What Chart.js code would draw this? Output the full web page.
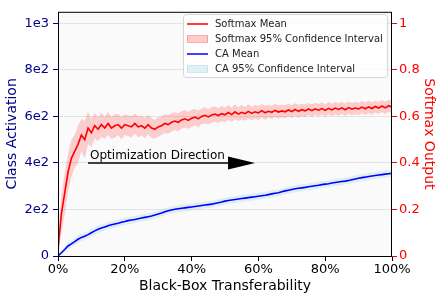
<!DOCTYPE html>
<html>
<head>
<meta charset="utf-8">
<script src="https://cdn.jsdelivr.net/npm/chart.js@4/dist/chart.umd.min.js"></script>
<style>
  body { margin: 0; background: #fff; }
  #wrap { width: 444px; height: 300px; position: relative; }
</style>
</head>
<body>
<div id="wrap"><canvas id="chart1"></canvas></div>
<script>
// x positions (% black-box transferability)
var transfer = [0,1,2,3,4,5,6,7,8,9,10,11,12,13,14,15,16,17,18,19,20,21,22,23,24,25,26,27,28,29,30,
    31,32,33,34,35,36,37,38,39,40,41,42,43,44,45,46,47,48,49,50,51,52,53,54,55,56,57,58,59,60,
    61,62,63,64,65,66,67,68,69,70,71,72,73,74,75,76,77,78,79,80,81,82,83,84,85,86,87,88,89,90,
    91,92,93,94,95,96,97,98,99,100];

var softmaxMean = [0.03,0.18,0.27,0.36,0.42,0.45,0.48,0.52,0.50,0.55,0.53,0.56,0.545,0.565,0.55,0.57,0.55,0.56,0.565,0.55,0.565,
    0.56,0.555,0.57,0.555,0.56,0.55,0.565,0.55,0.545,0.555,0.56,0.57,0.565,0.575,0.58,0.575,0.585,0.59,0.583,0.592,
    0.597,0.59,0.60,0.605,0.598,0.606,0.61,0.604,0.612,0.607,0.617,0.608,0.62,0.61,0.618,0.612,0.622,0.613,0.62,0.615,
    0.625,0.616,0.622,0.618,0.626,0.619,0.624,0.62,0.628,0.621,0.63,0.622,0.629,0.624,0.632,0.625,0.633,0.627,0.634,0.626,
    0.635,0.628,0.636,0.63,0.637,0.629,0.638,0.631,0.636,0.632,0.64,0.633,0.641,0.634,0.643,0.636,0.645,0.637,0.646,0.640];

var softmaxCI = [0.04,0.08,0.09,0.08,0.08,0.07,0.08,0.07,0.08,0.07,0.06,0.055,0.05,0.052,0.048,0.05,0.047,0.05,0.046,0.048,0.045,
    0.044,0.046,0.043,0.045,0.042,0.044,0.041,0.043,0.04,0.042,0.04,0.041,0.039,0.04,0.038,0.039,0.037,0.038,0.036,0.037,
    0.035,0.036,0.034,0.035,0.033,0.034,0.033,0.032,0.033,0.031,0.032,0.031,0.032,0.03,0.031,0.03,0.031,0.029,0.03,0.03,
    0.029,0.03,0.028,0.029,0.028,0.029,0.027,0.028,0.027,0.028,0.027,0.028,0.026,0.027,0.026,0.027,0.026,0.027,0.026,0.027,
    0.026,0.027,0.026,0.027,0.026,0.027,0.026,0.027,0.026,0.027,0.026,0.027,0.026,0.027,0.026,0.027,0.026,0.027,0.026,0.027];

var caMean = [0,14,28,43,52,62,72,80,85,92,100,108,115,120,125,130,134,138,141,145,148,
    152,155,157,160,163,166,169,172,176,181,185,190,195,198,201,203,205,207,209,211,
    213,215,217,219,221,223,226,229,232,236,239,241,243,245,247,249,251,253,255,257,
    259,261,264,267,270,272,276,280,283,286,289,291,293,295,298,300,302,304,307,309,
    311,314,316,318,320,322,325,328,331,334,337,339,342,344,346,348,350,352,354,356];

var caCI = [2,8,12,14,15,15,16,16,16,16,16,16,16,16,15,15,15,15,15,15,15,
    15,15,15,15,15,15,15,15,15,15,15,15,15,15,15,15,15,15,15,15,
    15,15,15,15,15,15,15,15,15,15,15,15,15,15,15,15,15,15,15,15,
    15,15,15,15,15,15,15,15,15,15,15,15,15,15,15,15,15,15,15,15,
    15,15,15,15,15,15,15,15,15,15,15,15,15,15,15,15,15,15,15,15];

var leftTicks = ['0', '2e2', '4e2', '6e2', '8e2', '1e3'];

function pts(ys) {
    return transfer.map(function (x, i) { return { x: x, y: ys[i] }; });
}
function band(mean, ci, sign) {
    return transfer.map(function (x, i) { return { x: x, y: mean[i] + sign * ci[i] }; });
}

var FONT = "'DejaVu Sans', sans-serif";
var NAVY = '#00008b';

var framePlugin = {
    id: 'frame',
    beforeDraw: function (chart) {
        var a = chart.chartArea, c = chart.ctx;
        c.save();
        c.fillStyle = '#fafafa';
        c.fillRect(a.left, a.top, a.right - a.left, a.bottom - a.top);
        c.restore();
    },
    afterDatasetsDraw: function (chart) {
        var a = chart.chartArea, c = chart.ctx;
        var xs = chart.scales.x, ys = chart.scales.y;
        // arrow annotation
        var x0 = xs.getPixelForValue(9), x1 = xs.getPixelForValue(59), y = ys.getPixelForValue(400);
        c.save();
        c.strokeStyle = '#000';
        c.lineWidth = 1.5;
        c.beginPath();
        c.moveTo(x0, y);
        c.lineTo(x1 - 24, y);
        c.stroke();
        c.fillStyle = '#000';
        c.beginPath();
        c.moveTo(x1 - 27, y - 6.5);
        c.lineTo(x1, y);
        c.lineTo(x1 - 27, y + 6.5);
        c.closePath();
        c.fill();
        c.font = '12px ' + FONT;
        c.textBaseline = 'alphabetic';
        c.fillText('Optimization Direction', x0 + 2, y - 4.4);
        c.restore();

        // frame
        c.save();
        c.strokeStyle = '#000';
        c.lineWidth = 1;
        c.strokeRect(a.left + 0.5, a.top + 0.5, a.right - a.left - 1, a.bottom - a.top);
        c.restore();
    },
    afterDraw: function (chart) {
        var c = chart.ctx;
        var bx = 183.5, by = 14.5, bw = 204, bh = 63;
        c.save();
        c.fillStyle = 'rgba(255,255,255,0.8)';
        c.strokeStyle = '#d6d6d6';
        c.lineWidth = 1;
        c.beginPath();
        c.roundRect(bx, by, bw, bh, 3);
        c.fill();
        c.stroke();
        var items = [
            { t: 'Softmax Mean', kind: 'line', col: '#ff0000' },
            { t: 'Softmax 95% Confidence Interval', kind: 'box', col: 'rgba(255,0,0,0.2)', edge: 'rgba(255,0,0,0.25)' },
            { t: 'CA Mean', kind: 'line', col: '#0000ff' },
            { t: 'CA 95% Confidence Interval', kind: 'box', col: 'rgba(173,216,230,0.35)', edge: 'rgba(173,216,230,0.5)' }
        ];
        c.font = '10px ' + FONT;
        c.textBaseline = 'middle';
        items.forEach(function (it, i) {
            var yy = by + 9.5 + i * 15;
            if (it.kind === 'line') {
                c.strokeStyle = it.col;
                c.lineWidth = 1.5;
                c.beginPath();
                c.moveTo(187, yy);
                c.lineTo(208, yy);
                c.stroke();
            } else {
                c.fillStyle = it.col;
                c.fillRect(187, yy - 3.5, 21, 7);
                c.strokeStyle = it.edge;
                c.lineWidth = 1;
                c.strokeRect(187.5, yy - 3.5, 20, 7);
            }
            c.fillStyle = '#222';
            c.fillText(it.t, 215, yy + 0.5);
        });
        c.restore();
    }
};

var ctx1 = document.getElementById('chart1').getContext('2d');
var chart1 = new Chart(ctx1, {
    type: 'line',
    data: {
        datasets: [{
            label: 'Softmax upper',
            data: band(softmaxMean, softmaxCI, 1),
            yAxisID: 'y1',
            borderWidth: 0,
            pointRadius: 0,
            backgroundColor: 'rgba(255,0,0,0.18)',
            fill: '+1',
            order: 3
        }, {
            label: 'Softmax lower',
            data: band(softmaxMean, softmaxCI, -1),
            yAxisID: 'y1',
            borderWidth: 0,
            pointRadius: 0,
            fill: false,
            order: 3
        }, {
            label: 'CA upper',
            data: band(caMean, caCI, 1),
            yAxisID: 'y',
            borderWidth: 0,
            pointRadius: 0,
            backgroundColor: 'rgba(173,216,230,0.35)',
            fill: '+1',
            order: 4
        }, {
            label: 'CA lower',
            data: band(caMean, caCI, -1),
            yAxisID: 'y',
            borderWidth: 0,
            pointRadius: 0,
            fill: false,
            order: 4
        }, {
            label: 'Softmax Mean',
            data: pts(softmaxMean),
            yAxisID: 'y1',
            borderColor: '#ff0000',
            borderWidth: 1.6,
            pointRadius: 0,
            fill: false,
            order: 1
        }, {
            label: 'CA Mean',
            data: pts(caMean),
            yAxisID: 'y',
            borderColor: '#0000ff',
            borderWidth: 1.6,
            pointRadius: 0,
            fill: false,
            order: 2
        }]
    },
    plugins: [framePlugin],
    options: {
        responsive: true,
        maintainAspectRatio: false,
        animation: false,
        layout: { padding: { top: 10, left: 0, right: 0, bottom: 0 } },
        plugins: {
            legend: { display: false },
            tooltip: { enabled: false }
        },
        scales: {
            x: {
                type: 'linear',
                min: 0,
                max: 100,
                afterFit: function (s) { s.height = 44; },
                border: { display: false },
                grid: { drawOnChartArea: false, drawTicks: true, tickLength: 5, tickColor: '#000' },
                ticks: {
                    stepSize: 20,
                    color: '#000',
                    padding: 1,
                    maxRotation: 0,
                    font: { family: FONT, size: 13 },
                    callback: function (v) { return v + '%'; }
                },
                title: {
                    display: true,
                    text: 'Black-Box Transferability',
                    color: '#000',
                    padding: { top: 0, bottom: 5.5 },
                    font: { family: FONT, size: 14 }
                }
            },
            y: {
                position: 'left',
                min: 0,
                max: 1050,
                afterFit: function (s) { s.width = 58; },
                afterBuildTicks: function (s) {
                    s.ticks = [0, 200, 400, 600, 800, 1000].map(function (v) { return { value: v }; });
                },
                border: { display: false },
                grid: { color: '#e3e3e3', lineWidth: 1, drawTicks: true, tickLength: 5, tickColor: NAVY },
                ticks: {
                    color: NAVY,
                    padding: 4,
                    font: { family: FONT, size: 13 },
                    callback: function (v) { return leftTicks[Math.round(v / 200)]; }
                },
                title: {
                    display: true,
                    text: 'Class Activation',
                    color: NAVY,
                    padding: { top: 3.5, bottom: 0 },
                    font: { family: FONT, size: 14 }
                }
            },
            y1: {
                position: 'right',
                min: 0,
                max: 1.05,
                afterFit: function (s) { s.width = 52; },
                afterBuildTicks: function (s) {
                    s.ticks = [0, 0.2, 0.4, 0.6, 0.8, 1].map(function (v) { return { value: v }; });
                },
                border: { display: false },
                grid: { drawOnChartArea: false, drawTicks: true, tickLength: 5, tickColor: '#ff0000' },
                ticks: {
                    color: '#ff0000',
                    padding: 2,
                    font: { family: FONT, size: 13 },
                    callback: function (v) { return v === 0 ? '0' : (v === 1 ? '1' : v.toFixed(1)); }
                },
                title: {
                    display: true,
                    text: 'Softmax Output',
                    color: '#ff0000',
                    padding: { top: 7, bottom: 0 },
                    font: { family: FONT, size: 14 }
                }
            }
        }
    }
});
</script>
</body>
</html>
